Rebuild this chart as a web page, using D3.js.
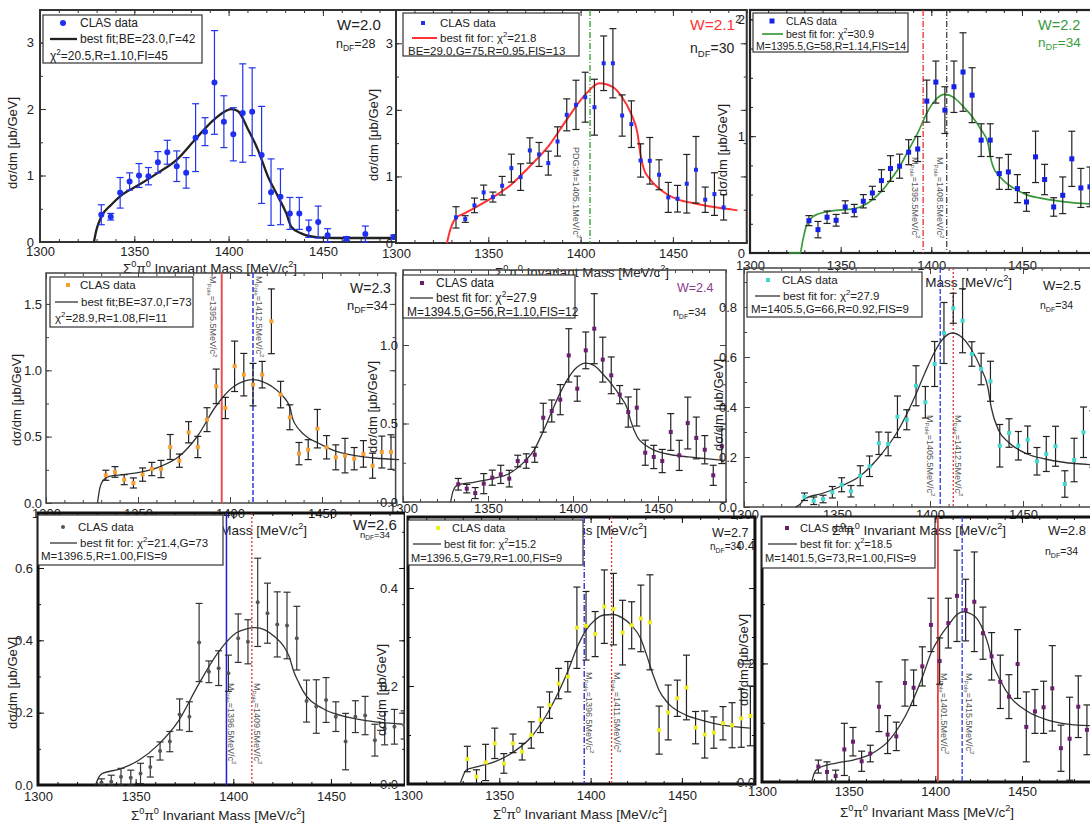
<!DOCTYPE html>
<html>
<head>
<meta charset="utf-8">
<script src="https://cdn.jsdelivr.net/npm/d3@7"></script>
<style>
body { margin: 0; background: #fff; }
svg { display: block; }
text { font-family: "Liberation Sans", Arial, sans-serif; }
</style>
</head>
<body>
<svg id="fig" width="1090" height="823"></svg>
<script>
// Sigma0 pi0 invariant mass spectra, CLAS data + fits, W = 2.0 ... 2.8 GeV

var massBins = [1332.5,1337.5,1342.5,1347.5,1352.5,1357.5,1362.5,1367.5,1372.5,1377.5,1382.5,1387.5,1392.5,1397.5,1402.5,1407.5,1412.5,1417.5,1422.5,1427.5,1432.5,1437.5,1442.5,1447.5,1452.5,1457.5,1462.5,1467.5,1472.5,1477.5,1482.5,1487.5];
var xTickVals = [1300, 1350, 1400, 1450];

// W = 2.0
var w20Mass = [1332.5,1337.5,1342.5,1347.5,1352.5,1357.5,1362.5,1367.5,1372.5,1377.5,1382.5,1387.5,1392.5,1397.5,1402.5,1407.5,1412.5,1417.5,1422.5,1427.5,1432.5,1437.5,1442.5,1447.5,1452.5,1462.5,1472.5,1487.5];
var w20Val = [0.41,0.38,0.74,0.91,1.0,0.99,1.2,1.35,1.14,1.04,1.57,1.66,2.4,1.81,1.62,1.94,1.96,1.31,0.75,0.68,0.43,0.43,0.2,0.3,0.1,0.05,0.12,0.075];
var w20Err = [0.15,0.05,0.23,0.13,0.18,0.13,0.16,0.18,0.23,0.23,0.51,0.21,0.78,0.39,0.4,0.74,0.66,0.73,0.5,0.42,0.24,0.24,0.13,0.24,0.1,0.03,0.12,0.03];
var w20FitM = [1328.6,1329.9,1332.5,1337.8,1342.6,1352.5,1362.5,1372.6,1382.5,1392.6,1401.4,1404.9,1410.2,1415.5,1420.8,1426.1,1430.6,1433.2,1438.5,1447.3,1456.2,1480.9,1500];
var w20FitV = [0,0.18,0.38,0.56,0.69,0.86,1.04,1.24,1.55,1.85,2.0,1.97,1.7,1.39,0.99,0.69,0.43,0.23,0.13,0.07,0.06,0.06,0.06];

// W = 2.1
var w21Val = [0.385,0.36,0.565,0.76,0.69,0.86,1.125,0.99,1.39,1.33,1.2,1.525,1.925,2.075,2.19,2.04,2.7,2.7,1.915,1.785,1.24,1.235,1.025,0.685,0.665,0.89,1.1,0.65,0.735,0.535];
var w21Err = [0.16,0.05,0.11,0.11,0.075,0.14,0.21,0.2,0.19,0.18,0.18,0.22,0.24,0.37,0.375,0.42,0.41,0.52,0.31,0.35,0.25,0.35,0.225,0.225,0.2,0.44,0.5,0.19,0.32,0.19];
var w21FitM = [1327.6,1329.4,1332.5,1337.4,1342.4,1352.4,1362.3,1372.4,1382.5,1392.4,1402.4,1410.2,1417.6,1422.2,1427.2,1430.8,1432.6,1434.4,1437.1,1442.2,1447.2,1452.2,1462.5,1472.4,1485];
var w21FitV = [0,0.2,0.375,0.45,0.525,0.685,0.875,1.15,1.45,1.85,2.225,2.4,2.34,2.2,1.95,1.65,1.3,1.1,0.975,0.825,0.725,0.66,0.59,0.54,0.49];

// W = 2.2
var w22Val = [0.277,0.2,0.306,0.28,0.394,0.363,0.443,0.514,0.62,0.723,0.743,0.863,0.89,1.3,1.463,1.223,1.423,1.549,1.351,0.966,0.966,0.68,0.694,0.551,0.437,0.823,0.629,0.394,0.494,0.806,0.557,0.566];
var w22Err = [0.043,0.07,0.053,0.05,0.053,0.053,0.057,0.057,0.093,0.11,0.103,0.107,0.107,0.18,0.18,0.2,0.22,0.336,0.235,0.14,0.14,0.135,0.15,0.12,0.08,0.22,0.13,0.079,0.157,0.236,0.167,0.17];
var w22FitM = [1321.5,1327.6,1329.2,1331,1333.8,1337.6,1342.6,1352.7,1357.7,1362.6,1367.6,1372.6,1377.7,1382.7,1387.6,1392.6,1397.6,1402.5,1407.5,1412.5,1417.4,1422.4,1427.4,1431.2,1432.5,1434,1437.6,1442.4,1447.4,1452.4,1462.5,1472.4,1487.3];
var w22FitV = [0,0,0.114,0.23,0.3,0.334,0.354,0.371,0.38,0.406,0.457,0.53,0.63,0.743,0.886,1.03,1.2,1.314,1.357,1.33,1.257,1.171,1.057,0.943,0.829,0.743,0.657,0.586,0.537,0.5,0.463,0.44,0.42];

// W = 2.3
var w23Val = [0.209,0.234,0.176,0.151,0.214,0.256,0.256,0.422,0.319,0.533,0.422,0.628,0.879,0.716,1.03,0.967,0.892,0.967,1.369,0.817,0.646,0.372,0.402,0.56,0.42,0.344,0.357,0.334,0.37,0.281,0.384,0.384];
var w23Err = [0.038,0.04,0.038,0.038,0.05,0.05,0.065,0.094,0.05,0.08,0.08,0.09,0.13,0.08,0.19,0.16,0.16,0.1,0.244,0.1,0.094,0.084,0.075,0.145,0.088,0.094,0.13,0.084,0.1,0.094,0.12,0.13];
var w23FitM = [1328,1328.9,1330.7,1334.3,1341.9,1352.1,1362.4,1372.4,1382.3,1392.3,1402.2,1407.3,1412.2,1417.3,1422.7,1427.6,1432.7,1433.9,1437.6,1442.6,1447.9,1457.9,1468,1478.3,1491.9];
var w23FitV = [0,0.088,0.163,0.2,0.214,0.234,0.276,0.352,0.503,0.729,0.879,0.917,0.93,0.917,0.879,0.822,0.716,0.641,0.553,0.49,0.452,0.389,0.357,0.339,0.327];

// W = 2.4
var w24Val = [0.113,0.085,0.057,0.117,0.155,0.176,0.149,0.261,0.261,0.301,0.537,0.58,0.652,0.934,0.722,0.966,1.104,0.907,0.807,0.684,0.573,0.601,0.314,0.287,0.261,0.446,0.297,0.503,0.408,0.333,0.17,0.355];
var w24Err = [0.037,0.027,0.035,0.064,0.048,0.058,0.053,0.037,0.046,0.048,0.092,0.07,0.096,0.17,0.08,0.117,0.223,0.143,0.117,0.058,0.096,0.117,0.08,0.074,0.074,0.117,0.096,0.165,0.133,0.09,0.064,0.11];
var w24FitM = [1328,1329.6,1331.9,1342.3,1352.5,1362.3,1372.1,1377,1382.3,1387.4,1392.7,1397.6,1402.5,1407.4,1412.3,1417.4,1422.5,1427.4,1432.3,1433.9,1437.8,1442.7,1448,1457.8,1467.8,1478,1488.8];
var w24FitV = [0,0.074,0.106,0.127,0.149,0.18,0.265,0.329,0.446,0.573,0.7,0.796,0.86,0.885,0.87,0.817,0.754,0.679,0.584,0.52,0.414,0.361,0.329,0.301,0.287,0.276,0.265];

// W = 2.5
var w25Val = [0.041,0.025,0.032,0.059,0.089,0.063,0.125,0.163,0.255,0.252,0.361,0.349,0.485,0.419,0.572,0.696,0.795,0.745,0.612,0.552,0.503,0.245,0.296,0.245,0.269,0.183,0.212,0.243,0.092,0.188,0.299,0.272];
var w25Err = [0.015,0.015,0.015,0.023,0.028,0.023,0.04,0.041,0.045,0.047,0.083,0.04,0.08,0.063,0.09,0.122,0.06,0.128,0.049,0.063,0.08,0.085,0.057,0.057,0.055,0.055,0.07,0.08,0.053,0.087,0.101,0.113];
var w25FitM = [1327.6,1329.8,1332.5,1342.4,1352.6,1362.6,1372.5,1382.3,1392.5,1397.4,1402.4,1406.9,1411.9,1417.1,1422.1,1427.1,1431.1,1432.9,1437,1442.2,1452.2,1461.9,1471.7,1487.5];
var w25FitV = [0,0.009,0.032,0.055,0.085,0.125,0.199,0.299,0.452,0.539,0.619,0.672,0.696,0.679,0.632,0.559,0.479,0.399,0.305,0.259,0.212,0.192,0.179,0.169];

// W = 2.6
var w26Val = [0.007,0.009,0.023,0.02,0.032,0.05,0.094,0.12,0.195,0.189,0.394,0.313,0.323,0.309,0.406,0.396,0.505,0.475,0.444,0.441,0.406,0.232,0.217,0.235,0.189,0.12,0.189,0.192,0.124,0.157,0.161,0.166];
var w26Err = [0.01,0.018,0.023,0.021,0.028,0.028,0.025,0.028,0.043,0.041,0.108,0.03,0.048,0.05,0.067,0.061,0.122,0.083,0.09,0.092,0.088,0.058,0.074,0.062,0.041,0.078,0.044,0.053,0.044,0.046,0.048,0.039];
var w26FitM = [1329.5,1331.3,1333,1341.9,1351.8,1361.5,1371.7,1382,1391.9,1401.6,1406.4,1411.2,1416.1,1421.2,1426,1428.6,1431,1433.7,1435.9,1445.6,1455.9,1465.8,1475.5,1486.6];
var w26FitV = [0,0.023,0.032,0.044,0.069,0.111,0.175,0.276,0.364,0.421,0.431,0.435,0.429,0.41,0.382,0.355,0.313,0.281,0.258,0.212,0.191,0.18,0.173,0.168];

// W = 2.7
var w27Val = [0.051,0.015,0.044,0.083,0.042,0.083,0.066,0.1,0.131,0.161,0.205,0.219,0.319,0.323,0.306,0.362,0.357,0.309,0.324,0.338,0.33,0.11,0.146,0.175,0.197,0.115,0.101,0.105,0.124,0.12,0.134,0.139];
var w27Err = [0.026,0.014,0.037,0.031,0.02,0.019,0.017,0.027,0.026,0.027,0.031,0.031,0.083,0.07,0.046,0.075,0.073,0.066,0.048,0.068,0.097,0.049,0.056,0.037,0.066,0.033,0.048,0.032,0.034,0.046,0.059,0.061];
var w27FitM = [1328.5,1330.3,1332.1,1337.6,1348,1358,1367.7,1377.4,1387.4,1392.4,1397.5,1402.4,1407.3,1412.4,1417.4,1422.3,1427.4,1430.7,1434.3,1437.4,1442.4,1452,1462.1,1472.3,1487.2];
var w27FitV = [0,0.018,0.029,0.035,0.046,0.066,0.097,0.151,0.229,0.277,0.314,0.335,0.345,0.346,0.339,0.324,0.297,0.263,0.222,0.192,0.165,0.141,0.129,0.12,0.114];

// W = 2.8
var w28Val = [0.026,0.017,0.01,0.055,0.068,0.035,0.048,0.127,0.08,0.077,0.167,0.159,0.195,0.265,0.204,0.268,0.314,0.29,0.304,0.251,0.212,0.169,0.144,0.199,0.093,0.119,0.126,0.158,0.057,0.073,0.127,0.088];
var w28Err = [0.011,0.017,0.01,0.044,0.024,0.017,0.014,0.042,0.032,0.024,0.039,0.03,0.033,0.045,0.039,0.042,0.077,0.052,0.084,0.044,0.04,0.045,0.037,0.058,0.059,0.037,0.044,0.072,0.039,0.07,0.052,0.042];
var w28FitM = [1328.7,1330.2,1332.5,1342.7,1352.7,1362.7,1372.9,1382.5,1392.7,1397.9,1402.7,1407.9,1412.7,1416.2,1422.9,1427.9,1430.6,1432.9,1437.9,1443.1,1453.3,1463.3,1473.3,1489.2];
var w28FitV = [0,0.015,0.023,0.032,0.037,0.047,0.069,0.11,0.178,0.22,0.245,0.266,0.283,0.287,0.279,0.254,0.231,0.203,0.169,0.144,0.119,0.106,0.099,0.095];

var xTitle = "\u03a3^{0}\u03c0^{0} Invariant Mass [MeV/c^{2}]";
var yTitle = "d\u03c3/dm [\u03bcb/GeV]";

var panels = [
  { id: 1, clip: [0, 0, 396, 290], x0: 40, ppm: 1.886, xMax: 1500, y0: 242, yTop: 10, yMax: 3.49,
    yTicks: [0, 1, 2, 3], yMinor: 0.5, yFmt: "d", xPad: 5, yPad: 6, frame: ["#333", 2],
    yLab: [12, 143], xLab: [210, 268],
    mass: w20Mass, val: w20Val, err: w20Err, fitM: w20FitM, fitV: w20FitV,
    pt: { shape: "circle", size: 3, color: "#1f2ff0" }, bar: "#2233ee",
    fit: { color: "#222", w: 2.3 }, vlines: [],
    leg: { x: 43, y: 15, w: 159, h: 48, fs: 12, r: [23, 39, 56], mx: 63, tx: 80, lx: [50, 77], r3x: 50,
      t: ["CLAS data", "best fit;BE=23.0,\u0393=42", "\u03c7^{2}=20.5,R=1.10,FI=45"] },
    W: ["W=2.0", 337, 30, 15, "#222"], ndf: ["n_{DF}=28", 336, 48, 12.5, "#222"] },
  { id: 2, clip: [360, 0, 748, 290], x0: 396, ppm: 1.846, xMax: 1490, y0: 243, yTop: 10, yMax: 3.5,
    yTicks: [0, 1, 2, 3], yMinor: 0.5, yFmt: "d", xPad: 6, yPad: 3, frame: ["#333", 2],
    yLab: [373, 135], xLab: [582, 272],
    mass: massBins.slice(0, 30), val: w21Val, err: w21Err, fitM: w21FitM, fitV: w21FitV,
    pt: { shape: "square", size: 4, color: "#1f2ff0" }, bar: "#222",
    fit: { color: "#ff3333", w: 2 },
    vlines: [{ m: 1405.1, color: "#2e9e2e", dash: "6,2,1,2", w: 1.3, dx: -17, ly: 147, t: "PDG:M=1405.1MeV/c^{2}" }],
    leg: { x: 403, y: 13, w: 176, h: 43, fs: 11.5, r: [23, 38, 51], mx: 423, tx: 440, lx: [412, 437], r3x: 408,
      t: ["CLAS data", "best fit for: \u03c7^{2}=21.8", "BE=29.0,G=75,R=0.95,FIS=13"] },
    W: ["W=2.1", 690, 30, 15.5, "#ff3333", "2"], ndf: ["n_{DF}=30", 690, 53, 14, "#222"] },
  { id: 3, clip: [705, 0, 1090, 300], x0: 750, ppm: 1.813, xMax: 1500, y0: 253, yTop: 10, yMax: 2.08,
    yTicks: [0, 1, 2], yMinor: 0.25, yFmt: "d", xPad: 8, yPad: 5, frame: ["#222", 2.2],
    yLab: [722, 150], xLab: [925, 282],
    mass: massBins, val: w22Val, err: w22Err, fitM: w22FitM, fitV: w22FitV,
    pt: { shape: "square", size: 5, color: "#1520e8" }, bar: "#222",
    fit: { color: "#3a9a3a", w: 1.7 },
    vlines: [{ m: 1395.5, color: "#e83030", dash: "6,2,1,2", w: 1.3, dx: -11, ly: 157, t: "M_{Pole}=1395.5MeV/c^{2}" },
             { m: 1408.5, color: "#444", dash: "6,2,1,2", w: 1.3, dx: -10, ly: 157, t: "M_{Pole}=1408.5MeV/c^{2}" }],
    leg: { x: 753, y: 13, w: 155, h: 39, fs: 10.5, r: [21, 34, 46], mx: 772, tx: 786, lx: [762, 783], r3x: 756,
      t: ["CLAS data", "best fit for: \u03c7^{2}=30.9", "M=1395.5,G=58,R=1.14,FIS=14"] },
    W: ["W=2.2", 1038, 30, 14.5, "#3a9a3a"], ndf: ["n_{DF}=34", 1038, 47, 13.5, "#3a9a3a"] },
  { id: 4, clip: [0, 268, 402, 540], x0: 46, ppm: 1.84, xMax: 1490, y0: 503, yTop: 273, yMax: 1.733,
    yTicks: [0, 0.5, 1, 1.5], yMinor: 0.25, yFmt: ".1f", xPad: 6, yPad: 4, frame: ["#444", 1.5],
    yLab: [16, 400], xLab: [220, 530],
    mass: massBins, val: w23Val, err: w23Err, fitM: w23FitM, fitV: w23FitV,
    pt: { shape: "square", size: 4, color: "#f5a030" }, bar: "#222",
    fit: { color: "#333", w: 1.3 },
    vlines: [{ m: 1395.5, color: "#e85050", dash: null, w: 2, dx: -12, ly: 276, t: "M_{Pole}=1395.5MeV/c^{2}" },
             { m: 1412.5, color: "#2a3ae0", dash: "5,2", w: 1.5, dx: 3, ly: 276, t: "M_{Pole}=1412.5MeV/c^{2}" }],
    leg: { x: 50, y: 277, w: 143, h: 50, fs: 11.5, r: [285, 302, 318], mx: 68, tx: 80, lx: [55, 78], r3x: 55,
      t: ["CLAS data", "best fit;BE=37.0,\u0393=73", "\u03c7^{2}=28.9,R=1.08,FI=11"] },
    W: ["W=2.3", 350, 293, 14, "#222"], ndf: ["n_{DF}=34", 347, 310, 13, "#222"] },
  { id: 5, clip: [360, 265, 740, 540], x0: 403, ppm: 1.7, xMax: 1490, y0: 502, yTop: 270, yMax: 1.478,
    yTicks: [0, 0.5, 1], yMinor: 0.25, yFmt: ".1f", xPad: 2, yPad: 5, frame: ["#444", 1.5],
    yLab: [372, 407], xLab: [560, 530],
    mass: massBins, val: w24Val, err: w24Err, fitM: w24FitM, fitV: w24FitV,
    pt: { shape: "square", size: 4, color: "#6a1f6f" }, bar: "#222",
    fit: { color: "#333", w: 1.3 }, vlines: [],
    leg: { x: 403, y: 275, w: 172, h: 43, fs: 12, r: [283, 298, 312], mx: 422, tx: 436, lx: [410, 433], r3x: 407,
      t: ["CLAS data", "best fit for: \u03c7^{2}=27.9", "M=1394.5,G=56,R=1.10,FIS=12"] },
    W: ["W=2.4", 677, 292, 12.5, "#8a3a8a"], ndf: ["n_{DF}=34", 673, 316, 10.5, "#222"] },
  { id: 6, clip: [700, 262, 1090, 545], x0: 744, ppm: 1.86, xMax: 1500, y0: 507, yTop: 268, yMax: 0.956,
    yTicks: [0, 0.2, 0.4, 0.6, 0.8], yMinor: 0.1, yFmt: ".1f", xPad: 3, yPad: 7, frame: ["#444", 1.5],
    yLab: [718, 405], xLab: [919, 530], xLabLate: true,
    mass: massBins, val: w25Val, err: w25Err, fitM: w25FitM, fitV: w25FitV,
    pt: { shape: "square", size: 4, color: "#40d8d0" }, bar: "#222",
    fit: { color: "#333", w: 1.3 },
    vlines: [{ m: 1405.5, color: "#2a3ae0", dash: "5,2", w: 1.3, dx: -13, ly: 415, t: "M_{Pole}=1405.5MeV/c^{2}" },
             { m: 1412.5, color: "#e83030", dash: "2,2", w: 1.3, dx: 2, ly: 415, t: "M_{Pole}=1412.5MeV/c^{2}" }],
    leg: { x: 747, y: 272, w: 175, h: 45, fs: 11.5, r: [280, 296, 309], mx: 768, tx: 782, lx: [755, 780], r3x: 751,
      t: ["CLAS data", "best fit for: \u03c7^{2}=27.9", "M=1405.5,G=66,R=0.92,FIS=9"] },
    W: ["W=2.5", 1043, 290, 13, "#222"], ndf: ["n_{DF}=34", 1040, 309, 10.5, "#222"] },
  { id: 7, clip: [0, 505, 405, 823], x0: 38, ppm: 1.953, xMax: 1488, y0: 785, yTop: 513, yMax: 0.752,
    yTicks: [0, 0.2, 0.4, 0.6], yMinor: 0.1, yFmt: ".1f", xPad: 7, yPad: 5, frame: ["#111", 3],
    yLab: [12, 683], xLab: [218, 815],
    mass: massBins, val: w26Val, err: w26Err, fitM: w26FitM, fitV: w26FitV,
    pt: { shape: "circle", size: 2, color: "#555" }, bar: "#333",
    fit: { color: "#333", w: 1.3 },
    vlines: [{ m: 1396.5, color: "#2020d0", dash: null, w: 1.5, dx: 2, ly: 683, t: "M_{Pole}=1396.5MeV/c^{2}" },
             { m: 1409.5, color: "#e83030", dash: "2,2", w: 1.3, dx: 2, ly: 683, t: "M_{Pole}=1409.5MeV/c^{2}" }],
    leg: { x: 38, y: 515, w: 185, h: 50, fs: 11.5, r: [527, 543, 556], mx: 63, tx: 78, lx: [50, 77], r3x: 41,
      t: ["CLAS data", "best fit for: \u03c7^{2}=21.4,G=73", "M=1396.5,R=1.00,FIS=9"] },
    W: ["W=2.6", 353, 530, 15, "#222"], ndf: ["n_{DF}=34", 360, 538, 9.5, "#222"] },
  { id: 8, clip: [370, 505, 758, 823], x0: 408, ppm: 1.826, xMax: 1490, y0: 784, yTop: 517, yMax: 0.545,
    yTicks: [0, 0.2, 0.4], yMinor: 0.1, yFmt: ".1f", xPad: 7, yPad: 10, frame: ["#111", 3],
    yLab: [381, 690], xLab: [580, 814],
    mass: massBins, val: w27Val, err: w27Err, fitM: w27FitM, fitV: w27FitV,
    pt: { shape: "square", size: 4, color: "#eeee22" }, bar: "#222",
    fit: { color: "#333", w: 1.3 },
    vlines: [{ m: 1396.5, color: "#2020d0", dash: "6,2,1,2", w: 1.3, dx: 2, ly: 672, t: "M_{Pole}=1396.5MeV/c^{2}" },
             { m: 1411.5, color: "#e83030", dash: "2,2", w: 1.3, dx: 2, ly: 672, t: "M_{Pole}=1411.5MeV/c^{2}" }],
    leg: { x: 408, y: 520, w: 175, h: 45, fs: 11, r: [528, 544, 558], mx: 438, tx: 452, lx: [413, 441], r3x: 411,
      t: ["CLAS data", "best fit for: \u03c7^{2}=15.2", "M=1396.5,G=79,R=1.00,FIS=9"] },
    W: ["W=2.7", 712, 537, 12.5, "#222"], ndf: ["n_{DF}=34", 710, 550, 10, "#222"] },
  { id: 9, clip: [730, 505, 1090, 823], x0: 762, ppm: 1.733, xMax: 1500, y0: 782, yTop: 517, yMax: 0.447,
    yTicks: [0, 0.2, 0.4], yMinor: 0.1, yFmt: ".1f", xPad: 5, yPad: 7, frame: ["#111", 3],
    yLab: [743, 660], xLab: [927, 812],
    mass: massBins, val: w28Val, err: w28Err, fitM: w28FitM, fitV: w28FitV,
    pt: { shape: "square", size: 4, color: "#6a1f6f" }, bar: "#222",
    fit: { color: "#333", w: 1.3 },
    vlines: [{ m: 1401.5, color: "#e84040", dash: null, w: 1.8, dx: 3, ly: 673, t: "M_{Pole}=1401.5MeV/c^{2}" },
             { m: 1415.5, color: "#2a3ae0", dash: "5,2", w: 1.3, dx: 4, ly: 673, t: "M_{Pole}=1415.5MeV/c^{2}" }],
    leg: { x: 762, y: 517, w: 173, h: 51, fs: 11, r: [528, 544, 558], mx: 787, tx: 800, lx: [768, 797], r3x: 765,
      t: ["CLAS data", "best fit for: \u03c7^{2}=18.5", "M=1401.5,G=73,R=1.00,FIS=9"] },
    W: ["W=2.8", 1048, 535, 13, "#222"], ndf: ["n_{DF}=34", 1045, 555, 10.5, "#222"] }
];

var svg = d3.select("#fig");
var defs = svg.append("defs");
var late = [];

// text with ^{sup} and _{sub} parts
function rich(sel, str, fs) {
  var re = /([\^_])\{([^}]*)\}/g, last = 0, m, cur = 0;
  function seg(txt, off, small) {
    if (!txt) return;
    sel.append("tspan").attr("dy", off - cur).attr("font-size", small ? fs * 0.68 : fs).text(txt);
    cur = off;
  }
  while ((m = re.exec(str)) !== null) {
    seg(str.slice(last, m.index), 0, false);
    seg(m[2], m[1] === "^" ? -fs * 0.42 : fs * 0.25, true);
    last = re.lastIndex;
  }
  seg(str.slice(last), 0, false);
  return sel;
}

function marker(g, shape, cx, cy, size, color) {
  if (shape === "circle") {
    g.append("circle").attr("cx", cx).attr("cy", cy).attr("r", size).attr("fill", color);
  } else {
    g.append("rect").attr("x", cx - size / 2).attr("y", cy - size / 2)
      .attr("width", size).attr("height", size).attr("fill", color);
  }
}

function drawPanel(p) {
  defs.append("clipPath").attr("id", "clip" + p.id).append("rect")
    .attr("x", p.clip[0]).attr("y", p.clip[1])
    .attr("width", p.clip[2] - p.clip[0]).attr("height", p.clip[3] - p.clip[1]);
  var g = svg.append("g").attr("clip-path", "url(#clip" + p.id + ")");

  var x = d3.scaleLinear().domain([1300, p.xMax]).range([p.x0, p.x0 + (p.xMax - 1300) * p.ppm]);
  var y = d3.scaleLinear().domain([0, p.yMax]).range([p.y0, p.yTop]);
  var L = x.range()[0], R = x.range()[1];
  var minorX = d3.range(1300, p.xMax + 0.01, 10), minorY = d3.range(0, p.yMax, p.yMinor);

  // axes, ticks inward on all four sides
  g.append("g").attr("transform", "translate(0," + p.y0 + ")")
    .call(d3.axisBottom(x).tickValues(minorX).tickSize(-3).tickFormat(""));
  g.append("g").attr("transform", "translate(0," + p.y0 + ")")
    .call(d3.axisBottom(x).tickValues(xTickVals).tickSize(-6).tickPadding(p.xPad).tickFormat(d3.format("d")));
  g.append("g").attr("transform", "translate(0," + p.yTop + ")")
    .call(d3.axisTop(x).tickValues(minorX).tickSize(-3).tickFormat(""));
  g.append("g").attr("transform", "translate(0," + p.yTop + ")")
    .call(d3.axisTop(x).tickValues(xTickVals).tickSize(-6).tickFormat(""));
  g.append("g").attr("transform", "translate(" + L + ",0)")
    .call(d3.axisLeft(y).tickValues(minorY).tickSize(-3).tickFormat(""));
  g.append("g").attr("transform", "translate(" + L + ",0)")
    .call(d3.axisLeft(y).tickValues(p.yTicks).tickSize(-6).tickPadding(p.yPad).tickFormat(d3.format(p.yFmt)));
  g.append("g").attr("transform", "translate(" + R + ",0)")
    .call(d3.axisRight(y).tickValues(minorY).tickSize(-3).tickFormat(""));
  g.append("g").attr("transform", "translate(" + R + ",0)")
    .call(d3.axisRight(y).tickValues(p.yTicks).tickSize(-6).tickFormat(""));
  g.selectAll(".domain").remove();
  g.selectAll(".tick line").attr("stroke", p.frame[0]);
  g.selectAll(".tick text").attr("font-size", 13).attr("fill", "#222")
    .attr("font-family", "Liberation Sans, Arial, sans-serif");

  g.append("rect").attr("x", L).attr("y", p.yTop).attr("width", R - L).attr("height", p.y0 - p.yTop)
    .attr("fill", "none").attr("stroke", p.frame[0]).attr("stroke-width", p.frame[1]);

  // vertical mass lines
  p.vlines.forEach(function(v) {
    g.append("line").attr("x1", x(v.m)).attr("x2", x(v.m)).attr("y1", p.yTop).attr("y2", p.y0)
      .attr("stroke", v.color).attr("stroke-width", v.w).attr("stroke-dasharray", v.dash);
    rich(g.append("text").attr("fill", "#555")
      .attr("transform", "translate(" + (x(v.m) + v.dx) + "," + v.ly + ") rotate(90)"), v.t, 9);
  });

  // fit curve
  var line = d3.line()
    .x(function(d) { return x(d[0]); })
    .y(function(d) { return y(d[1]); })
    .curve(d3.curveMonotoneX);
  g.append("path").datum(d3.zip(p.fitM, p.fitV)).attr("d", line)
    .attr("fill", "none").attr("stroke", p.fit.color).attr("stroke-width", p.fit.w);

  // data with error bars
  var pts = d3.zip(p.mass, p.val, p.err);
  var eb = g.append("g").attr("stroke", p.bar).attr("stroke-width", 1.2);
  pts.forEach(function(d) {
    var cx = x(d[0]), lo = y(Math.max(0, d[1] - d[2])), hi = y(d[1] + d[2]);
    eb.append("line").attr("x1", cx).attr("x2", cx).attr("y1", lo).attr("y2", hi);
    eb.append("line").attr("x1", cx - 3.5).attr("x2", cx + 3.5).attr("y1", lo).attr("y2", lo);
    eb.append("line").attr("x1", cx - 3.5).attr("x2", cx + 3.5).attr("y1", hi).attr("y2", hi);
  });
  var mk = g.append("g");
  pts.forEach(function(d) {
    marker(mk, p.pt.shape, x(d[0]), y(d[1]), p.pt.size, p.pt.color);
  });

  // legend
  var lg = p.leg, fs = lg.fs, off = fs * 0.36;
  g.append("rect").attr("x", lg.x).attr("y", lg.y).attr("width", lg.w).attr("height", lg.h)
    .attr("fill", "#fff").attr("stroke", "#333").attr("stroke-width", 1.2);
  marker(g, p.pt.shape, lg.mx, lg.r[0], p.pt.size, p.pt.color);
  rich(g.append("text").attr("x", lg.tx).attr("y", lg.r[0] + off).attr("fill", "#222"), lg.t[0], fs);
  g.append("line").attr("x1", lg.lx[0]).attr("x2", lg.lx[1]).attr("y1", lg.r[1]).attr("y2", lg.r[1])
    .attr("stroke", p.fit.color).attr("stroke-width", p.fit.w);
  rich(g.append("text").attr("x", lg.lx[1] + 3).attr("y", lg.r[1] + off).attr("fill", "#222"), lg.t[1], fs);
  rich(g.append("text").attr("x", lg.r3x).attr("y", lg.r[2] + off).attr("fill", "#222"), lg.t[2], fs);

  // W and degrees of freedom
  var wt = rich(g.append("text").attr("x", p.W[1]).attr("y", p.W[2]).attr("fill", p.W[4]), p.W[0], p.W[3]);
  if (p.W[5]) {
    wt.append("tspan").attr("dy", -p.W[3] * 0.42).attr("font-size", p.W[3] * 0.68)
      .attr("fill", "#333").text(p.W[5]);
  }
  rich(g.append("text").attr("x", p.ndf[1]).attr("y", p.ndf[2]).attr("fill", p.ndf[4]), p.ndf[0], p.ndf[3]);

  // axis titles
  rich(g.append("text").attr("text-anchor", "middle").attr("fill", "#222")
    .attr("transform", "translate(" + (p.yLab[0] + 5) + "," + p.yLab[1] + ") rotate(-90)"), yTitle, 13);
  var drawX = function(target) {
    rich(target.append("text").attr("text-anchor", "middle").attr("fill", "#222")
      .attr("x", p.xLab[0]).attr("y", p.xLab[1] + 5), xTitle, 13.5);
  };
  if (p.xLabLate) {
    late.push(function() { drawX(svg.append("g").attr("clip-path", "url(#clip" + p.id + ")")); });
  } else {
    drawX(g);
  }
}

panels.forEach(drawPanel);
late.forEach(function(f) { f(); });
</script>
</body>
</html>
